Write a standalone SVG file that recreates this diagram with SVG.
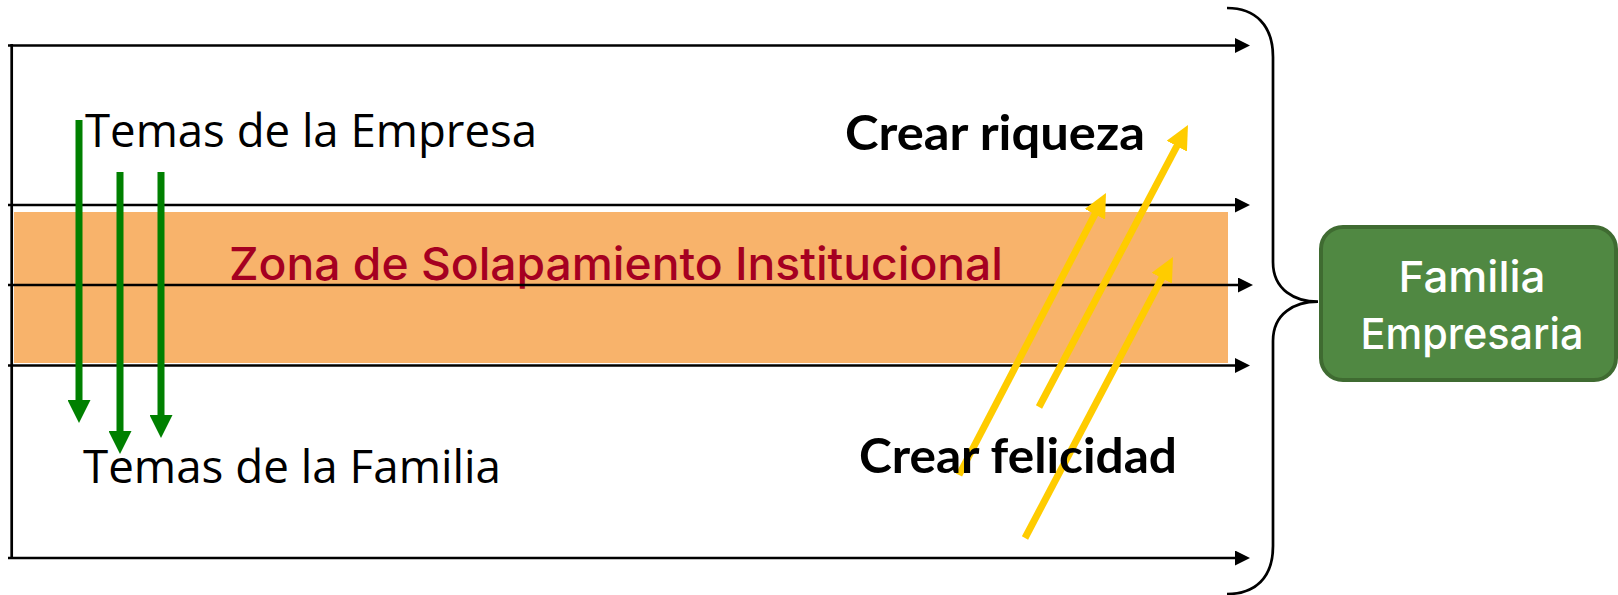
<svg xmlns="http://www.w3.org/2000/svg" width="1618" height="595" viewBox="0 0 1618 595">
<style>
.hline{stroke:#000;stroke-width:2.7;fill:none}
.garrow{stroke:#008000;stroke-width:7;fill:none}
.yarrow{stroke:#FFCC00;stroke-width:7;fill:none}
.calibri{font-family:"Open Sans","Noto Sans",sans-serif;font-size:46px;fill:#000}
.gothic{font-family:Lato,"Noto Sans",sans-serif;font-weight:bold;font-size:48px;fill:#000}
.medium{font-family:Inter,Lato,"Noto Sans",sans-serif;font-weight:500}
</style>
<defs>
<marker id="mk-black" markerUnits="userSpaceOnUse" markerWidth="15" markerHeight="15" refX="3" refY="7.5" orient="auto"><path d="M0,0 L15,7.5 L0,15 z" fill="#000"/></marker>
<marker id="mk-green" markerUnits="userSpaceOnUse" markerWidth="23" markerHeight="23" refX="5" refY="11.5" orient="auto"><path d="M0,0 L23,11.5 L0,23 z" fill="#008000"/></marker>
<marker id="mk-yellow" markerUnits="userSpaceOnUse" markerWidth="24" markerHeight="23" refX="5" refY="11.5" orient="auto"><path d="M0,0 L24,11.5 L0,23 z" fill="#FFCC00"/></marker>
</defs>
<rect width="1618" height="595" fill="#fff"/>
<g id="zona">
<rect x="14" y="212" width="1214" height="151" fill="#F8B36B"/>
<text class="medium" x="229" y="280" textLength="774" lengthAdjust="spacingAndGlyphs" style="font-size:45px;fill:#A50021">Zona de Solapamiento Institucional</text>
</g>
<g id="connectors">
<line class="hline" x1="11.7" y1="44" x2="11.7" y2="559"/>
<line class="hline" x1="8" y1="45.5" x2="1238" y2="45.5" marker-end="url(#mk-black)"/>
<line class="hline" x1="8" y1="205" x2="1238" y2="205" marker-end="url(#mk-black)"/>
<line class="hline" x1="8" y1="285" x2="1241" y2="285" marker-end="url(#mk-black)"/>
<line class="hline" x1="8" y1="365.5" x2="1238" y2="365.5" marker-end="url(#mk-black)"/>
<line class="hline" x1="8" y1="558" x2="1238" y2="558" marker-end="url(#mk-black)"/>
<path class="hline" d="M1227,8 C1255,8 1273,25 1273,57 L1273,262 C1273,290 1295,301.7 1318,301.7 C1295,301.7 1273,313 1273,341 L1273,546 C1273,578 1255,594 1227,594"/>
<line class="garrow" x1="79" y1="120" x2="79" y2="405" marker-end="url(#mk-green)"/>
<line class="garrow" x1="120" y1="172" x2="120" y2="436" marker-end="url(#mk-green)"/>
<line class="garrow" x1="161" y1="172" x2="161" y2="420" marker-end="url(#mk-green)"/>
<line class="yarrow" x1="1039" y1="407" x2="1179.1" y2="141.8" marker-end="url(#mk-yellow)"/>
<line class="yarrow" x1="959" y1="475" x2="1097.2" y2="209.9" marker-end="url(#mk-yellow)"/>
<line class="yarrow" x1="1025" y1="538" x2="1164.1" y2="273.8" marker-end="url(#mk-yellow)"/>
</g>
<g id="temas-empresa"><text class="calibri" x="85" y="147" textLength="452" lengthAdjust="spacingAndGlyphs">Temas de la Empresa</text></g>
<g id="temas-familia"><text class="calibri" x="83" y="483" textLength="418" lengthAdjust="spacingAndGlyphs">Temas de la Familia</text></g>
<g id="crear-riqueza"><text class="gothic" x="845" y="150" textLength="300" lengthAdjust="spacingAndGlyphs">Crear riqueza</text></g>
<g id="crear-felicidad"><text class="gothic" x="859" y="473" textLength="318" lengthAdjust="spacingAndGlyphs">Crear felicidad</text></g>
<g id="familia-empresaria">
<rect x="1321" y="227" width="295" height="153" rx="22" fill="#508842" stroke="#3F6B31" stroke-width="4"/>
<text class="medium" x="1472" y="292" text-anchor="middle" textLength="147" lengthAdjust="spacingAndGlyphs" style="font-size:43px;fill:#fff">Familia</text>
<text class="medium" x="1472" y="349" text-anchor="middle" textLength="223" lengthAdjust="spacingAndGlyphs" style="font-size:43px;fill:#fff">Empresaria</text>
</g>
</svg>
